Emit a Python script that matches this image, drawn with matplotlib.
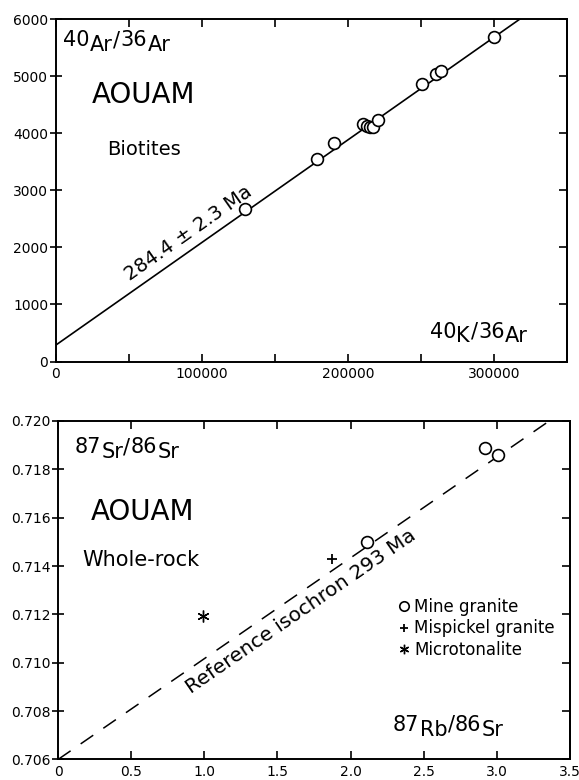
import numpy as np
import matplotlib.pyplot as plt
from matplotlib.ticker import FuncFormatter, FixedLocator

# ---- top panel: biotites, 40Ar/36Ar vs 40K/36Ar ----
k_ar = [129500, 178500, 190400, 210500, 212800, 215000, 216900, 220300,
        251000, 260300, 263700, 300200]
ar_ar = [2672, 3548, 3830, 4161, 4131, 4103, 4113, 4231,
         4862, 5036, 5095, 5680]
biot_intercept = 290.0
biot_slope = 0.01797
biot_age = "284.4 ± 2.3 Ma"

# ---- bottom panel: whole-rock, 87Sr/86Sr vs 87Rb/86Sr ----
mine_rb = [2.11, 2.92, 3.01]
mine_sr = [0.71500, 0.71887, 0.71858]
misp_rb = [1.875]
misp_sr = [0.71428]
micro_rb = [0.99]
micro_sr = [0.71195]
ref_intercept = 0.706
ref_slope = 0.004169
ref_label = "Reference isochron 293 Ma"

top_xticks = [0, 50000, 100000, 150000, 200000, 250000, 300000, 350000]
top_yticks = [0, 1000, 2000, 3000, 4000, 5000, 6000]
bot_xticks = [0, 0.5, 1.0, 1.5, 2.0, 2.5, 3.0, 3.5]
bot_xlabels = ["0", "0.5", "1.0", "1.5", "2.0", "2.5", "3.0", "3.5"]
bot_yticks = [0.706, 0.708, 0.710, 0.712, 0.714, 0.716, 0.718, 0.720]

plt.rcParams["font.family"] = ["DejaVu Sans"]
plt.rcParams["axes.linewidth"] = 1.4

DROP = 3.5  # how far the element symbol sits below the mass number, points


def ratio_label(ax, x, y, parts, size=15):
    """Write a 40Ar/36Ar style label: numbers on the line, symbols lowered."""
    prev = ax.text(x, y, parts[0][0], transform=ax.transAxes, fontsize=size,
                   ha="left", va="baseline")
    level = parts[0][1]
    for txt, low in parts[1:]:
        dy = (level - low) * DROP
        prev = ax.annotate(txt, xy=(1, 0), xycoords=prev, xytext=(0.3, dy),
                           textcoords="offset points", fontsize=size,
                           ha="left", va="bottom")
        level = low


def style_axes(ax, xticks, yticks):
    ax.xaxis.set_major_locator(FixedLocator(xticks))
    ax.yaxis.set_major_locator(FixedLocator(yticks))
    ax.tick_params(axis="x", direction="in", length=5.5, width=1.2,
                   top=True, labelsize=10, pad=4)
    ax.tick_params(axis="y", direction="inout", length=9, width=1.2,
                   right=False, labelsize=10, pad=1)
    sec = ax.secondary_yaxis("right")
    sec.yaxis.set_major_locator(FixedLocator(yticks))
    sec.tick_params(direction="in", length=6, width=1.2, labelright=False)


fig = plt.figure(figsize=(5.79, 7.80), dpi=100)

# ---------------- top ----------------
ax1 = fig.add_axes([0.0967, 0.5365, 0.8826, 0.4391])
ax1.set_xlim(0, 350000)
ax1.set_ylim(0, 6000)
style_axes(ax1, top_xticks, top_yticks)
ax1.xaxis.set_major_formatter(FuncFormatter(
    lambda v, _: f"{v:.0f}" if v % 100000 == 0 and v < 350000 else ""))

xs = np.array([0, 350000])
ax1.plot(xs, biot_intercept + biot_slope * xs, color="black", lw=1.2)
ax1.plot(k_ar, ar_ar, "o", ms=8.5, mfc="white", mec="black", mew=1.2)

ratio_label(ax1, 0.014, 0.921, [("40", 0), ("Ar", 1), ("/", 0), ("36", 0), ("Ar", 1)])
ratio_label(ax1, 0.731, 0.070, [("40", 0), ("K", 1), ("/", 0), ("36", 0), ("Ar", 1)])
ax1.text(0.0705, 0.756, "AOUAM", transform=ax1.transAxes, fontsize=20,
         ha="left", va="baseline")
ax1.text(0.0998, 0.604, "Biotites", transform=ax1.transAxes, fontsize=14,
         ha="left", va="baseline")
ang1 = np.degrees(np.arctan(biot_slope))
ax1.text(90400, 2251, biot_age, fontsize=14, rotation=ang1,
         transform_rotates_text=True, rotation_mode="anchor",
         ha="center", va="center")

# ---------------- bottom ----------------
ax2 = fig.add_axes([0.1002, 0.0263, 0.8843, 0.4340])
ax2.set_xlim(0, 3.5)
ax2.set_ylim(0.706, 0.720)
style_axes(ax2, bot_xticks, bot_yticks)
ax2.set_xticklabels(bot_xlabels)
ax2.yaxis.set_major_formatter(FuncFormatter(lambda v, _: f"{v:.3f}"))

xs2 = np.array([0, 3.5])
ax2.plot(xs2, ref_intercept + ref_slope * xs2, color="black", lw=1.1,
         dashes=(10, 8))
ax2.plot(mine_rb, mine_sr, "o", ms=8.5, mfc="white", mec="black", mew=1.2,
         label="Mine granite")
ax2.plot(misp_rb, misp_sr, "+", ms=7, mec="black", mew=1.3,
         label="Mispickel granite")
ax2.plot(micro_rb, micro_sr, marker=(6, 2, 0), ls="none", ms=8.5,
         mec="black", mew=1.0, label="Microtonalite")

ax2.legend(loc="upper left", bbox_to_anchor=(0.665, 0.478), frameon=False,
           fontsize=12, handlelength=0.6, handletextpad=0.35,
           labelspacing=0.22, borderpad=0, borderaxespad=0, numpoints=1,
           markerscale=0.8)

ratio_label(ax2, 0.032, 0.905, [("87", 0), ("Sr", 1), ("/", 0), ("86", 0), ("Sr", 1)])
ratio_label(ax2, 0.654, 0.085, [("87", 0), ("Rb", 1), ("/", 0), ("86", 0), ("Sr", 1)])
ax2.text(0.0645, 0.7075, "AOUAM", transform=ax2.transAxes, fontsize=20,
         ha="left", va="baseline")
ax2.text(0.047, 0.5716, "Whole-rock", transform=ax2.transAxes, fontsize=15,
         ha="left", va="baseline")
ang2 = np.degrees(np.arctan(ref_slope))
ax2.text(1.66, 0.7121, ref_label, fontsize=14.5, rotation=ang2,
         transform_rotates_text=True, rotation_mode="anchor",
         ha="center", va="center")

fig.savefig("out.png", dpi=100)
